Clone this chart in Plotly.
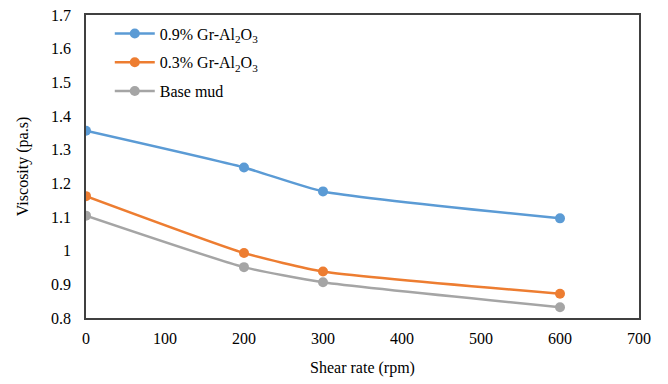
import plotly.graph_objects as go

shear_rate = [0, 200, 300, 600]
gr09 = [1.356, 1.247, 1.176, 1.096]
gr03 = [1.162, 0.993, 0.938, 0.872]
base_mud = [1.104, 0.951, 0.906, 0.832]

series_names = ["0.9% Gr-Al<sub>2</sub>O<sub>3</sub>", "0.3% Gr-Al<sub>2</sub>O<sub>3</sub>", "Base mud"]
series_colors = ["#5B9BD5", "#ED7D31", "#A5A5A5"]

y_tickvals = [0.8, 0.9, 1.0, 1.1, 1.2, 1.3, 1.4, 1.5, 1.6, 1.7]
y_ticktext = ["0.8", "0.9", "1", "1.1", "1.2", "1.3", "1.4", "1.5", "1.6", "1.7"]
x_tickvals = [0, 100, 200, 300, 400, 500, 600, 700]

font_family = "Times New Roman, Liberation Serif, serif"

fig = go.Figure()
for name, vals, col in zip(series_names, [gr09, gr03, base_mud], series_colors):
    fig.add_trace(go.Scatter(
        x=shear_rate, y=vals, name=name, mode="lines+markers",
        line=dict(color=col, width=2.5, shape="spline", smoothing=0.5),
        marker=dict(color=col, size=10),
        legendgroup=name,
    ))

fig.update_layout(
    width=668, height=384,
    margin=dict(l=86, r=29, t=15, b=66, autoexpand=False),
    paper_bgcolor="white", plot_bgcolor="white",
    font=dict(family=font_family, size=16, color="#000000"),
    showlegend=True,
    legend=dict(x=0.043, y=0.995, xanchor="left", yanchor="top",
                bgcolor="rgba(0,0,0,0)", font=dict(size=16, family=font_family),
                tracegroupgap=5, itemwidth=40),
    xaxis=dict(range=[0, 700], tickvals=x_tickvals, showgrid=False, zeroline=False,
               showline=True, linecolor="#404040", linewidth=1.5, mirror=True,
               ticks="", tickfont=dict(size=16, family=font_family), ticklabelstandoff=5,
               automargin=False,
               title=dict(text="Shear rate (rpm)", font=dict(size=16, family=font_family), standoff=16)),
    yaxis=dict(range=[0.8, 1.7], tickvals=y_tickvals, ticktext=y_ticktext, showgrid=False,
               zeroline=False, showline=True, linecolor="#404040", linewidth=1.5, mirror=True,
               ticks="", tickfont=dict(size=16, family=font_family), ticklabelstandoff=10,
               automargin=False,
               title=dict(text="Viscosity (pa.s)", font=dict(size=16, family=font_family), standoff=18)),
)

fig.write_html("out.html")
